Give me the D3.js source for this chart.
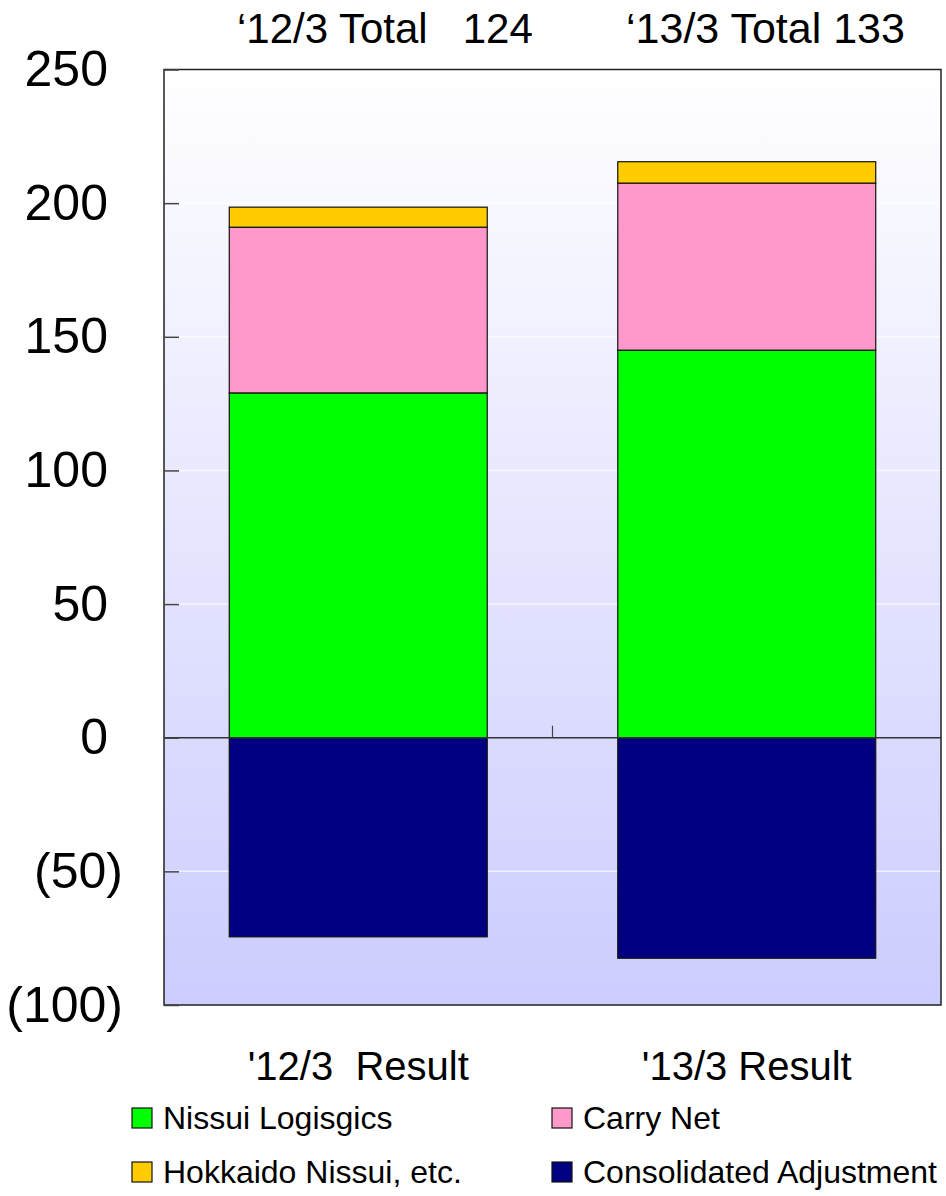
<!DOCTYPE html>
<html>
<head>
<meta charset="utf-8">
<script src="https://cdn.jsdelivr.net/npm/d3@7"></script>
<style>
  html, body { margin: 0; padding: 0; background: #fff; }
  svg { display: block; font-family: "Liberation Sans", Arial, sans-serif; }
</style>
</head>
<body>
<svg id="chart" width="946" height="1196"></svg>
<script>
// Fiscal-year categories and the stacked segment values
const categories = ["'12/3  Result", "'13/3 Result"];
const totalPrefixes = ["\u201812/3 Total   ", "\u201813/3 Total "];
const seriesNames = ["Nissui Logisgics", "Carry Net", "Hokkaido Nissui, etc.", "Consolidated Adjustment"];
const seriesColors = ["#00ff00", "#ff99cc", "#ffcc00", "#000080"];
const nissuiLogistics = [129, 145];
const carryNet = [62, 62.5];
const hokkaidoNissui = [7.5, 8];
const consolidatedAdjustment = [-74.5, -82.5];
const tickValues = [250, 200, 150, 100, 50, 0, -50, -100];
const tickLabels = ["250", "200", "150", "100", "50", "0", "(50)", "(100)"];

const seriesValues = [nissuiLogistics, carryNet, hokkaidoNissui, consolidatedAdjustment];
const rows = categories.map((c, i) => {
  const r = { category: c };
  seriesNames.forEach((s, k) => { r[s] = seriesValues[k][i]; });
  return r;
});

const svg = d3.select("#chart");
const plot = { left: 164, right: 941, top: 69.5, bottom: 1005 };

const x = d3.scaleBand()
  .domain(categories)
  .range([plot.left, plot.right])
  .paddingInner(0.336)
  .paddingOuter(0.168);

const y = d3.scaleLinear()
  .domain([-100, 250])
  .range([plot.bottom, plot.top]);

// Plot background gradient
const defs = svg.append("defs");
const grad = defs.append("linearGradient")
  .attr("id", "bg").attr("x1", 0).attr("y1", 0).attr("x2", 0).attr("y2", 1);
grad.append("stop").attr("offset", "0%").attr("stop-color", "#ffffff");
grad.append("stop").attr("offset", "100%").attr("stop-color", "#ccccff");

svg.append("rect")
  .attr("x", plot.left).attr("y", plot.top)
  .attr("width", plot.right - plot.left).attr("height", plot.bottom - plot.top)
  .attr("fill", "url(#bg)");

// Light gridlines
svg.append("g")
  .selectAll("line")
  .data(tickValues.filter(v => v !== 0 && v !== 250 && v !== -100))
  .join("line")
  .attr("x1", plot.left).attr("x2", plot.right)
  .attr("y1", d => y(d)).attr("y2", d => y(d))
  .attr("stroke", "#ffffff").attr("stroke-opacity", 0.7).attr("stroke-width", 1.5);

// Stacked bars (negative values stack below zero)
const stack = d3.stack().keys(seriesNames).offset(d3.stackOffsetDiverging);
const stacked = stack(rows);

svg.append("g")
  .selectAll("g")
  .data(stacked)
  .join("g")
  .attr("fill", (d, i) => seriesColors[i])
  .selectAll("rect")
  .data(d => d)
  .join("rect")
  .attr("x", d => x(d.data.category))
  .attr("width", x.bandwidth())
  .attr("y", d => y(Math.max(d[0], d[1])))
  .attr("height", d => Math.abs(y(d[0]) - y(d[1])))
  .attr("stroke", "#111")
  .attr("stroke-width", 1.2);

// Zero baseline
svg.append("line")
  .attr("x1", plot.left).attr("x2", plot.right)
  .attr("y1", y(0)).attr("y2", y(0))
  .attr("stroke", "#333").attr("stroke-width", 1.5);

// Category divider tick on the baseline
const dividerX = (x(categories[0]) + x.bandwidth() + x(categories[1])) / 2;
svg.append("line")
  .attr("x1", dividerX).attr("x2", dividerX)
  .attr("y1", y(0)).attr("y2", y(0) - 12)
  .attr("stroke", "#444").attr("stroke-width", 1.2);

// Plot frame
svg.append("rect")
  .attr("x", plot.left).attr("y", plot.top)
  .attr("width", plot.right - plot.left).attr("height", plot.bottom - plot.top)
  .attr("fill", "none").attr("stroke", "#222").attr("stroke-width", 1.5);

// Y axis with inward ticks
const yAxis = d3.axisLeft(y)
  .tickValues(tickValues)
  .tickSize(-15)
  .tickPadding(56)
  .tickFormat((d, i) => tickLabels[i]);

const yg = svg.append("g")
  .attr("transform", `translate(${plot.left},0)`)
  .call(yAxis);
yg.select(".domain").remove();
yg.selectAll(".tick line").attr("stroke", "#444").attr("stroke-width", 1.5);
yg.selectAll(".tick text")
  .attr("font-size", 50)
  .attr("font-family", "Liberation Sans, Arial, sans-serif")
  .attr("fill", "#000")
  .attr("dx", (d, i) => tickLabels[i].startsWith("(") ? 15 : 0);

// Category labels
svg.append("g")
  .selectAll("text")
  .data(categories)
  .join("text")
  .attr("x", d => x(d) + x.bandwidth() / 2)
  .attr("y", 1080)
  .attr("text-anchor", "middle")
  .attr("font-size", 40)
  .style("white-space", "pre")
  .text(d => d);

// Totals above the chart
const totals = rows.map(r => d3.sum(seriesNames, s => r[s]));
const totalX = [237, 626];
const totalSize = [42, 43];
svg.append("g")
  .selectAll("text")
  .data(totals)
  .join("text")
  .attr("x", (d, i) => totalX[i])
  .attr("y", 43)
  .attr("font-size", (d, i) => totalSize[i])
  .style("white-space", "pre")
  .text((d, i) => totalPrefixes[i] + d3.format("d")(Math.round(d)));

// Legend
const legendPos = [
  { x: 132, y: 1108 }, { x: 552, y: 1108 },
  { x: 132, y: 1162 }, { x: 552, y: 1162 }
];
const legend = svg.append("g")
  .selectAll("g")
  .data(seriesNames)
  .join("g")
  .attr("transform", (d, i) => `translate(${legendPos[i].x},${legendPos[i].y})`);
legend.append("rect")
  .attr("width", 20).attr("height", 20)
  .attr("fill", (d, i) => seriesColors[i])
  .attr("stroke", "#111").attr("stroke-width", 1.2);
legend.append("text")
  .attr("x", 31).attr("y", 21)
  .attr("font-size", 32)
  .text(d => d);
</script>
</body>
</html>
